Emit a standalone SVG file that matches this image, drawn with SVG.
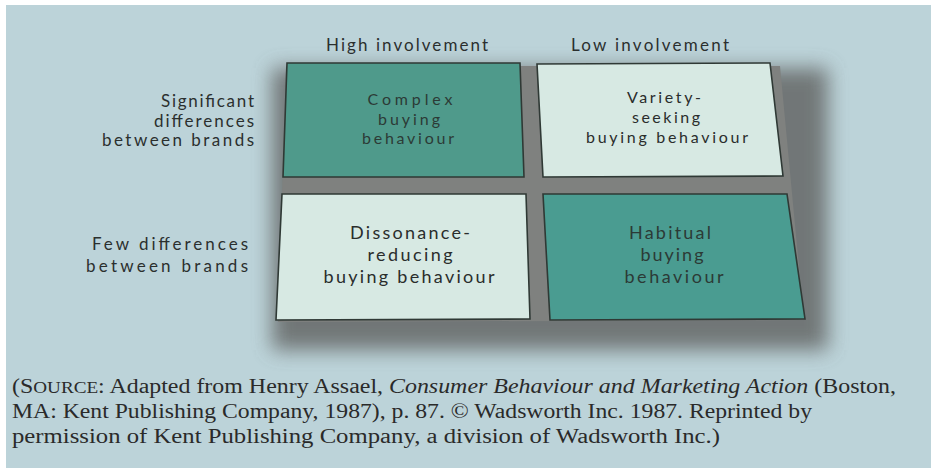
<svg xmlns="http://www.w3.org/2000/svg" width="931" height="473" viewBox="0 0 931 473">
  <defs>
    <filter id="blur" x="-20%" y="-20%" width="140%" height="140%">
      <feGaussianBlur stdDeviation="10"/>
    </filter>
    <style>
      .box { stroke: #2f3935; stroke-width: 1.6; }
      .dark { fill: #4f9a8b; }
      .dark2 { fill: #4a9c91; }
      .light { fill: #d7e9e3; }
      .lbl { font-family: Lato, "Open Sans", sans-serif; fill: #2b2f2e; font-size: 17px; }
      .btxt { font-family: Lato, "Open Sans", sans-serif; font-size: 18px; text-anchor: middle; }
      .top { font-size: 16px; }
      .ondark { fill: #2c3a36; }
      .onlight { fill: #2a2d2c; }
      .cap { font-family: "Liberation Serif", serif; font-size: 20px; fill: #2a2a2a; }
    </style>
  </defs>

  <!-- page -->
  <rect x="0" y="0" width="931" height="473" fill="#ffffff"/>
  <rect x="6" y="5" width="925" height="463" fill="#bcd3d9"/>

  <!-- shadow -->
  <rect x="272" y="68" width="556" height="282" fill="#5f615f" opacity="0.8" filter="url(#blur)"/>
  <polygon points="286,66 780,66 804,320 278,322" fill="#7f817f"/>

  <!-- column headers -->
  <g id="col-high">
    <text class="lbl" x="407" y="51" text-anchor="middle" textLength="162" lengthAdjust="spacing">High involvement</text>
  </g>
  <g id="col-low">
    <text class="lbl" x="650" y="51" text-anchor="middle" textLength="158" lengthAdjust="spacing">Low involvement</text>
  </g>

  <!-- row labels -->
  <g id="row-significant">
    <text class="lbl" x="254" y="107" text-anchor="end" font-size="16" textLength="93" lengthAdjust="spacing">Significant</text>
    <text class="lbl" x="254" y="126.5" text-anchor="end" font-size="16" textLength="100" lengthAdjust="spacing">differences</text>
    <text class="lbl" x="254" y="146" text-anchor="end" font-size="16" textLength="152" lengthAdjust="spacing">between brands</text>
  </g>
  <g id="row-few">
    <text class="lbl" x="248" y="250" text-anchor="end" font-size="18" textLength="156" lengthAdjust="spacing">Few differences</text>
    <text class="lbl" x="248" y="272" text-anchor="end" font-size="18" textLength="162" lengthAdjust="spacing">between brands</text>
  </g>

  <!-- quadrants -->
  <g id="complex">
    <polygon class="box dark" points="287,63 520,63 524,177 283,177"/>
    <text class="btxt top ondark" x="410" y="105" textLength="85" lengthAdjust="spacing">Complex</text>
    <text class="btxt top ondark" x="409" y="124.5" textLength="62" lengthAdjust="spacing">buying</text>
    <text class="btxt top ondark" x="408" y="144" textLength="92" lengthAdjust="spacing">behaviour</text>
  </g>
  <g id="variety">
    <polygon class="box light" points="537,64 770,63 783,176 543,177"/>
    <text class="btxt top onlight" x="664" y="103" textLength="74" lengthAdjust="spacing">Variety-</text>
    <text class="btxt top onlight" x="666" y="122.5" textLength="68" lengthAdjust="spacing">seeking</text>
    <text class="btxt top onlight" x="667" y="142.5" textLength="162" lengthAdjust="spacing">buying behaviour</text>
  </g>
  <g id="dissonance">
    <polygon class="box light" points="282,194 526,194 530,319 276,320"/>
    <text class="btxt onlight" x="410" y="239" textLength="120" lengthAdjust="spacing">Dissonance-</text>
    <text class="btxt onlight" x="410" y="261" textLength="85" lengthAdjust="spacing">reducing</text>
    <text class="btxt onlight" x="409" y="283" textLength="171" lengthAdjust="spacing">buying behaviour</text>
  </g>
  <g id="habitual">
    <polygon class="box dark2" points="543,194 787,194 805,319 550,320"/>
    <text class="btxt ondark" x="670" y="239" textLength="82" lengthAdjust="spacing">Habitual</text>
    <text class="btxt ondark" x="672" y="261" textLength="63" lengthAdjust="spacing">buying</text>
    <text class="btxt ondark" x="674" y="283" textLength="99" lengthAdjust="spacing">behaviour</text>
  </g>

  <g id="connectors"></g>

  <!-- source caption -->
  <g id="caption">
    <text class="cap" x="12" y="393" textLength="884" lengthAdjust="spacingAndGlyphs">(S<tspan font-size="16">OURCE</tspan>: Adapted from Henry Assael, <tspan font-style="italic">Consumer Behaviour and Marketing Action</tspan> (Boston,</text>
    <text class="cap" x="12" y="418" textLength="800" lengthAdjust="spacingAndGlyphs">MA: Kent Publishing Company, 1987), p. 87. © Wadsworth Inc. 1987. Reprinted by</text>
    <text class="cap" x="12" y="443" textLength="708" lengthAdjust="spacingAndGlyphs">permission of Kent Publishing Company, a division of Wadsworth Inc.)</text>
  </g>
</svg>
